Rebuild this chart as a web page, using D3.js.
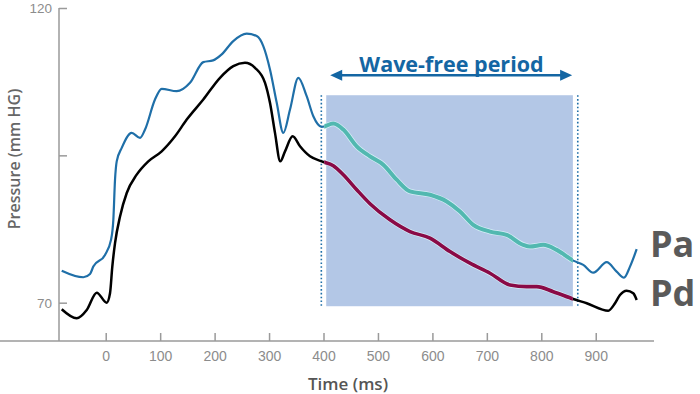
<!DOCTYPE html>
<html><head><meta charset="utf-8">
<script src="https://cdn.jsdelivr.net/npm/d3@7"></script>
<style>body{margin:0;background:#fff}svg{display:block}</style>
</head><body>
<svg id="c" width="700" height="394"></svg>
<script>
// Data (time in ms, pressure in mm Hg)
const paTime = [-80.8,-41.1,-28.8,-22.8,-1.3,9.7,14.0,17.1,20.2,29.4,47.7,63.0,72.2,90.5,102.8,130.4,154.8,179.2,197.1,213.0,234.3,258.9,277.3,289.4,301.7,314.0,326.2,338.5,353.7,369.1,381.3,396.7,418.0,436.4,461.0,485.4,509.8,534.4,558.8,595.6,626.2,650.7,675.1,705.8,736.4,766.9,779.2,803.6,828.3,858.8,877.1,895.5,920.1,938.4,951.9,962.9,975.2];
const paValue = [75.44,74.32,74.88,76.12,78.11,80.66,84.06,90.87,93.98,96.26,98.81,97.96,99.37,104.47,106.29,105.88,107.31,110.82,111.11,112.13,114.39,115.65,115.24,113.54,109.58,103.96,98.81,102.77,108.16,105.03,101.63,99.83,100.39,99.37,96.53,94.83,93.42,90.87,88.88,88.32,87.18,85.48,83.21,82.07,81.51,79.81,79.52,79.81,78.96,77.14,76.41,75.10,76.87,75.27,74.25,76.12,79.08];
const pdTime = [-80.8,-53.3,-34.9,-16.5,1.8,7.9,12.1,17.1,26.3,38.6,56.9,78.2,102.8,127.3,148.8,179.2,209.9,234.3,255.8,274.2,292.6,301.7,310.9,320.6,329.3,343.4,356.8,375.2,396.7,418.0,436.4,461.0,485.4,522.1,558.8,595.6,632.3,669.0,705.8,742.5,773.2,791.5,822.0,858.8,883.4,923.0,935.4,944.5,956.8,968.9,975.2];
const pdValue = [68.88,67.35,68.76,71.70,70.0,71.60,76.12,80.10,84.63,88.61,91.72,93.98,95.68,98.23,101.07,104.47,108.16,110.14,110.71,109.86,107.31,103.91,98.81,93.98,95.68,98.23,96.53,94.83,93.98,93.25,91.72,89.17,86.79,84.06,82.07,80.95,78.67,76.70,75.00,73.01,72.72,72.72,71.87,70.63,69.90,68.64,69.90,71.31,72.04,71.60,70.46];
const xTicks = [0,100,200,300,400,500,600,700,800,900];
const yTicks = [70,95,120];
const yTickLabels = ["70","","120"];
const waveFree = [405, 858];       // shaded window (ms)
const waveBand = [69.4, 105.2];    // shaded window (mm Hg)
const dottedAt = [396, 867];       // dotted boundary lines (ms)
const arrowSpan = [416, 853];      // arrow extent (ms)
const arrowLevel = 108.6;          // arrow level (mm Hg)
const labels = {title:"Wave-free period", x:"Time (ms)", y:"Pressure (mm HG)", pa:"Pa", pd:"Pd"};

const svg = d3.select("#c");
const x = d3.scaleLinear().domain([-85.8, 1007]).range([59, 654]);
const y = d3.scaleLinear().domain([63.5, 120]).range([341, 8]);
const FONT = "'Open Sans', sans-serif";
const TICKFONT = "'Liberation Sans', Arial, sans-serif";

// shaded band
svg.append("rect")
  .attr("x", x(waveFree[0])).attr("y", y(waveBand[1]))
  .attr("width", x(waveFree[1]) - x(waveFree[0]))
  .attr("height", y(waveBand[0]) - y(waveBand[1]))
  .attr("fill", "#b3c7e6");

// dotted lines
svg.selectAll("line.dot").data(dottedAt).join("line")
  .attr("x1", d => x(d)).attr("x2", d => x(d))
  .attr("y1", y(waveBand[1])).attr("y2", y(69.2))
  .attr("stroke", "#1f6fa8").attr("stroke-width", 1.6)
  .attr("stroke-dasharray", "1.6,2.2");

// axes
const xAxis = svg.append("g").attr("transform", "translate(0,341)")
  .call(d3.axisBottom(x).tickValues(xTicks).tickSizeInner(-8).tickSizeOuter(0).tickPadding(10.5));
const yAxis = svg.append("g").attr("transform", "translate(59,0)")
  .call(d3.axisLeft(y).tickValues(yTicks).tickFormat((d,i) => yTickLabels[i]).tickSizeInner(-8).tickSizeOuter(0).tickPadding(7));
[xAxis, yAxis].forEach(g => {
  g.select(".domain").attr("stroke", "#9a9a9a").attr("stroke-width", 1.5);
  g.selectAll(".tick line").attr("stroke", "#9a9a9a").attr("stroke-width", 1.5);
  g.selectAll(".tick text").attr("fill", "#8c8c8c").attr("font-family", TICKFONT);
});
xAxis.selectAll(".tick text").attr("font-size", 14);
yAxis.selectAll(".tick text").attr("font-size", 13.5).attr("dy", "0.36em");
yAxis.select(".domain").attr("d", `M0,${y(120)}V341`);
xAxis.select(".domain").attr("d", `M0,0H654`);

// curves
const paData = paTime.map((t,i) => [t, paValue[i]]);
const pdData = pdTime.map((t,i) => [t, pdValue[i]]);
const line = d3.line().x(d => x(d[0])).y(d => y(d[1])).curve(d3.curveMonotoneX);

const defs = svg.append("defs");
defs.append("clipPath").attr("id", "wf").append("rect")
  .attr("x", x(waveFree[0]) - 2).attr("y", 0)
  .attr("width", x(waveFree[1]) - x(waveFree[0]) + 2).attr("height", 394);

svg.append("path").attr("d", line(paData)).attr("fill", "none")
  .attr("stroke", "#1f6fa8").attr("stroke-width", 2.2);
svg.append("path").attr("d", line(pdData)).attr("fill", "none")
  .attr("stroke", "#000").attr("stroke-width", 2.5);

const inside = svg.append("g").attr("clip-path", "url(#wf)");
inside.append("path").attr("d", line(paData)).attr("fill", "none")
  .attr("stroke", "#d6eef7").attr("stroke-width", 5.4);
inside.append("path").attr("d", line(paData)).attr("fill", "none")
  .attr("stroke", "#52b8b0").attr("stroke-width", 4);
inside.append("path").attr("d", line(pdData)).attr("fill", "none")
  .attr("stroke", "#d6eef7").attr("stroke-width", 5);
inside.append("path").attr("d", line(pdData)).attr("fill", "none")
  .attr("stroke", "#8a0a46").attr("stroke-width", 3.6);

// arrow
const ay = y(arrowLevel);
const ax0 = x(arrowSpan[0]), ax1 = x(arrowSpan[1]);
svg.append("line").attr("x1", ax0 + 4).attr("x2", ax1 - 4).attr("y1", ay).attr("y2", ay)
  .attr("stroke", "#1466a3").attr("stroke-width", 2.4);
svg.append("path").attr("d", `M${ax0 - 2},${ay} L${ax0 + 10},${ay - 5.5} L${ax0 + 10},${ay + 5.5}Z`).attr("fill", "#1466a3");
svg.append("path").attr("d", `M${ax1 + 2},${ay} L${ax1 - 10},${ay - 5.5} L${ax1 - 10},${ay + 5.5}Z`).attr("fill", "#1466a3");

// texts
svg.append("text").attr("x", 451.5).attr("y", 72)
  .attr("text-anchor", "middle").attr("font-family", FONT).attr("font-weight", 700)
  .attr("font-size", 21.5).attr("fill", "#1466a3").text(labels.title);

svg.append("text").attr("x", 348).attr("y", 389.5)
  .attr("text-anchor", "middle").attr("font-family", FONT).attr("font-weight", 600)
  .attr("font-size", 17).attr("fill", "#555").text(labels.x);

svg.append("text").attr("transform", "translate(19.5,159) rotate(-90)")
  .attr("text-anchor", "middle").attr("font-family", FONT).attr("font-weight", 600)
  .attr("font-size", 16).attr("fill", "#666").text(labels.y);

svg.append("text").attr("x", 650).attr("y", 257)
  .attr("font-family", FONT).attr("font-weight", 700)
  .attr("font-size", 36).attr("fill", "#5a5a5a").text(labels.pa);
svg.append("text").attr("x", 650).attr("y", 306)
  .attr("font-family", FONT).attr("font-weight", 700)
  .attr("font-size", 36).attr("fill", "#5a5a5a").text(labels.pd);
</script>
</body></html>
